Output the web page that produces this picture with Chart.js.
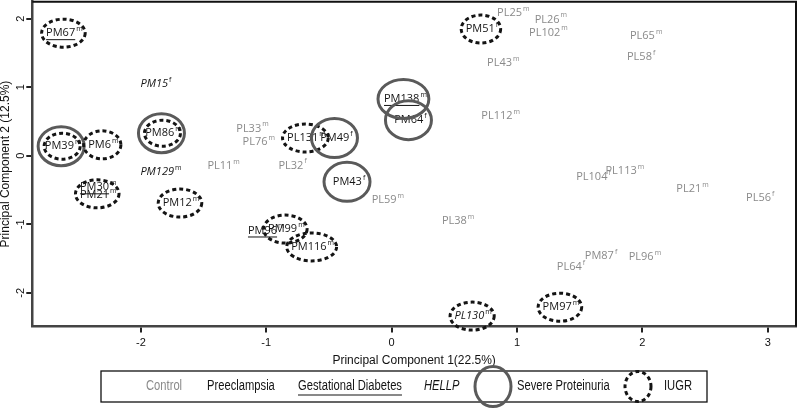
<!DOCTYPE html>
<html>
<head>
<meta charset="utf-8">
<script src="https://cdn.jsdelivr.net/npm/chart.js@4.4.1/dist/chart.umd.min.js"></script>
<style>
  html, body { margin: 0; padding: 0; background: #fff; }
  #wrap { width: 797px; height: 411px; }
</style>
</head>
<body>
<div id="wrap"><canvas id="pca"></canvas></div>
<script>
// samples, sex superscript, PCA scores
const sampleIds = ['PL25', 'PL26', 'PL102', 'PL65', 'PL58', 'PL43', 'PL112', 'PL33', 'PL76', 'PL11',
    'PL32', 'PL59', 'PL38', 'PL113', 'PL104', 'PL21', 'PL56', 'PM87', 'PL96', 'PL64',
    'PM67', 'PM15', 'PM39', 'PM6', 'PM86', 'PM129', 'PM30', 'PM21', 'PM12', 'PL131',
    'PM49', 'PM43', 'PM138', 'PM64', 'PM51', 'PM96', 'PM99', 'PM116', 'PL130', 'PM97'];
const sampleSex = ['m', 'm', 'm', 'm', 'f', 'm', 'm', 'm', 'm', 'm',
    'f', 'm', 'm', 'm', 'f', 'm', 'f', 'f', 'm', 'f',
    'm', 'f', 'm', 'm', 'm', 'm', 'm', 'm', 'm', 'm',
    'f', 'f', 'm', 'f', 'f', 'm', 'm', 'm', 'm', 'm'];
const pc1 = [0.97, 1.27, 1.25, 2.03, 1.99, 0.89, 0.87, -1.11, -1.06, -1.34,
    -0.79, -0.03, 0.53, 1.86, 1.61, 2.40, 2.94, 1.67, 2.02, 1.43,
    -2.61, -1.88, -2.62, -2.30, -1.82, -1.84, -2.34, -2.34, -1.68, -0.68,
    -0.44, -0.34, 0.11, 0.15, 0.72, -1.00, -0.84, -0.63, 0.65, 1.35];
const pc2 = [2.08, 1.99, 1.80, 1.75, 1.44, 1.35, 0.58, 0.40, 0.20, -0.15,
    -0.14, -0.65, -0.95, -0.22, -0.31, -0.48, -0.61, -1.46, -1.47, -1.62,
    1.79, 1.05, 0.14, 0.16, 0.33, -0.24, -0.46, -0.57, -0.69, 0.26,
    0.26, -0.38, 0.83, 0.52, 1.85, -1.09, -1.07, -1.33, -2.34, -2.21];
// C = control, PE = preeclampsia, GD = gestational diabetes, H = HELLP
const diagnosis = ['C', 'C', 'C', 'C', 'C', 'C', 'C', 'C', 'C', 'C',
    'C', 'C', 'C', 'C', 'C', 'C', 'C', 'C', 'C', 'C',
    'GD', 'H', 'PE', 'PE', 'PE', 'H', 'GD', 'PE', 'PE', 'PE',
    'PE', 'PE', 'GD', 'PE', 'PE', 'GD', 'PE', 'PE', 'H', 'PE'];
const severeProteinuria = ['PM39', 'PM86', 'PM49', 'PM43', 'PM138', 'PM64'];
const iugr = ['PM67', 'PM39', 'PM6', 'PM86', 'PM21', 'PM12', 'PL131', 'PM51', 'PM99', 'PM116', 'PL130', 'PM97'];

const xTickMin = -2.866, xTickMax = 3.225;
const yTickMin = -2.49, yTickMax = 2.25;

const GREY = '#8a8a8a';
const INK = '#141414';
const RING = '#5a5a5a';
const LABEL_FONT = '"Open Sans", "Noto Sans", sans-serif';
const AXIS_FONT = '"Liberation Sans", Arial, sans-serif';

function labelFont(italic, size) {
    return (italic ? 'italic ' : '') + size + 'px ' + LABEL_FONT;
}

function drawEllipse(ctx, x, y, rx, ry, dashed) {
    ctx.save();
    ctx.beginPath();
    ctx.ellipse(x, y, rx, ry, 0, 0, Math.PI * 2);
    ctx.lineWidth = 3;
    if (dashed) {
        ctx.strokeStyle = INK;
        ctx.setLineDash([4, 3]);
    } else {
        ctx.strokeStyle = RING;
    }
    ctx.stroke();
    ctx.restore();
}

// sample names with sex superscript, underline / italic for diagnosis, rings for severity
const sampleLabels = {
    id: 'sampleLabels',
    afterDatasetsDraw(chart) {
        const ctx = chart.ctx;
        const meta = chart.getDatasetMeta(0);
        const widths = [];
        ctx.save();
        ctx.textBaseline = 'middle';
        meta.data.forEach((pt, i) => {
            const dx = diagnosis[i];
            const italic = dx === 'H';
            ctx.font = labelFont(italic, 11);
            const w1 = ctx.measureText(sampleIds[i]).width;
            ctx.font = labelFont(false, 7);
            const w2 = ctx.measureText(sampleSex[i]).width;
            const total = w1 + w2 + 1;
            widths[i] = total;
            const x0 = pt.x - total / 2;
            ctx.fillStyle = dx === 'C' ? GREY : INK;
            ctx.font = labelFont(italic, 11);
            ctx.textAlign = 'left';
            ctx.fillText(sampleIds[i], x0, pt.y);
            ctx.font = labelFont(false, 7);
            ctx.fillText(sampleSex[i], x0 + w1 + 1, pt.y - 4);
            if (dx === 'GD') {
                ctx.fillRect(x0, pt.y + 6, w1, 1);
            }
        });
        meta.data.forEach((pt, i) => {
            const id = sampleIds[i];
            if (severeProteinuria.includes(id)) {
                drawEllipse(ctx, pt.x - 2, pt.y, Math.max(23, widths[i] / 2 + 4), 19.5, false);
            }
            if (iugr.includes(id)) {
                const inner = severeProteinuria.includes(id);
                drawEllipse(ctx, pt.x - 1, pt.y + (id === 'PM21' ? -1 : 0),
                    inner ? 18 : widths[i] / 2 + 3.5, inner ? 13 : 14, true);
            }
        });
        ctx.restore();
    }
};

// closing lines of the panel box (top and right)
const panelBox = {
    id: 'panelBox',
    afterDraw(chart) {
        const {ctx, chartArea: a} = chart;
        ctx.save();
        ctx.strokeStyle = '#111';
        ctx.lineWidth = 2;
        ctx.beginPath();
        ctx.moveTo(a.left, a.top);
        ctx.lineTo(a.right, a.top);
        ctx.lineTo(a.right, a.bottom);
        ctx.stroke();
        ctx.restore();
    }
};

// legend box under the plot, text squeezed to look condensed
const keyBox = {
    id: 'keyBox',
    afterDraw(chart) {
        const ctx = chart.ctx;
        const top = 371, bottom = 402, left = 101, right = 707;
        const cy = (top + bottom) / 2;
        const squeeze = 0.8;
        ctx.save();
        ctx.strokeStyle = '#111';
        ctx.lineWidth = 1.3;
        ctx.strokeRect(left, top, right - left, bottom - top);
        ctx.textBaseline = 'middle';
        ctx.textAlign = 'left';
        const font = '14px ' + AXIS_FONT;
        const items = [
            {text: 'Control', x: 146, color: GREY},
            {text: 'Preeclampsia', x: 207, color: INK},
            {text: 'Gestational Diabetes', x: 298, color: INK, underline: true},
            {text: 'HELLP', x: 424, color: INK, italic: true},
            {text: 'Severe Proteinuria', x: 517, color: INK},
            {text: 'IUGR', x: 664, color: INK}
        ];
        items.forEach(it => {
            ctx.save();
            ctx.translate(it.x, cy);
            ctx.scale(squeeze, 1);
            ctx.font = (it.italic ? 'italic ' : '') + font;
            ctx.fillStyle = it.color;
            ctx.fillText(it.text, 0, 0);
            if (it.underline) {
                ctx.fillRect(0, 8, ctx.measureText(it.text).width, 1);
            }
            ctx.restore();
        });
        drawEllipse(ctx, 493, cy, 18, 20, false);
        drawEllipse(ctx, 638, cy, 13, 15, true);
        ctx.restore();
    }
};

const points = pc1.map((v, i) => ({x: v, y: pc2[i]}));

new Chart(document.getElementById('pca').getContext('2d'), {
    type: 'scatter',
    data: {
        datasets: [{
            data: points,
            pointRadius: 0,
            pointHoverRadius: 0
        }]
    },
    options: {
        responsive: true,
        maintainAspectRatio: false,
        animation: false,
        devicePixelRatio: 1,
        layout: {padding: {top: 1, right: 1, left: 0, bottom: 39}},
        plugins: {
            legend: {display: false},
            tooltip: {enabled: false}
        },
        scales: {
            x: {
                type: 'linear',
                min: xTickMin,
                max: xTickMax,
                border: {color: '#444', width: 2.5},
                grid: {drawOnChartArea: false, color: '#222', lineWidth: 2, tickLength: 6},
                ticks: {
                    stepSize: 1,
                    includeBounds: false,
                    padding: 4,
                    color: '#111',
                    font: {family: AXIS_FONT, size: 11}
                },
                title: {
                    display: true,
                    text: 'Principal Component 1(22.5%)',
                    color: '#111',
                    padding: {top: 0, bottom: 4},
                    font: {family: AXIS_FONT, size: 12}
                }
            },
            y: {
                type: 'linear',
                min: yTickMin,
                max: yTickMax,
                border: {color: '#444', width: 2.5},
                grid: {drawOnChartArea: false, color: '#222', lineWidth: 2, tickLength: 6},
                ticks: {
                    stepSize: 1,
                    includeBounds: false,
                    padding: 0,
                    minRotation: 90,
                    maxRotation: 90,
                    crossAlign: 'center',
                    color: '#111',
                    font: {family: AXIS_FONT, size: 11, lineHeight: 0.3}
                },
                title: {
                    display: true,
                    text: 'Principal Component 2 (12.5%)',
                    color: '#111',
                    padding: {top: 0, bottom: 11},
                    font: {family: AXIS_FONT, size: 12, lineHeight: 1}
                }
            }
        }
    },
    plugins: [sampleLabels, panelBox, keyBox]
});
</script>
</body>
</html>
